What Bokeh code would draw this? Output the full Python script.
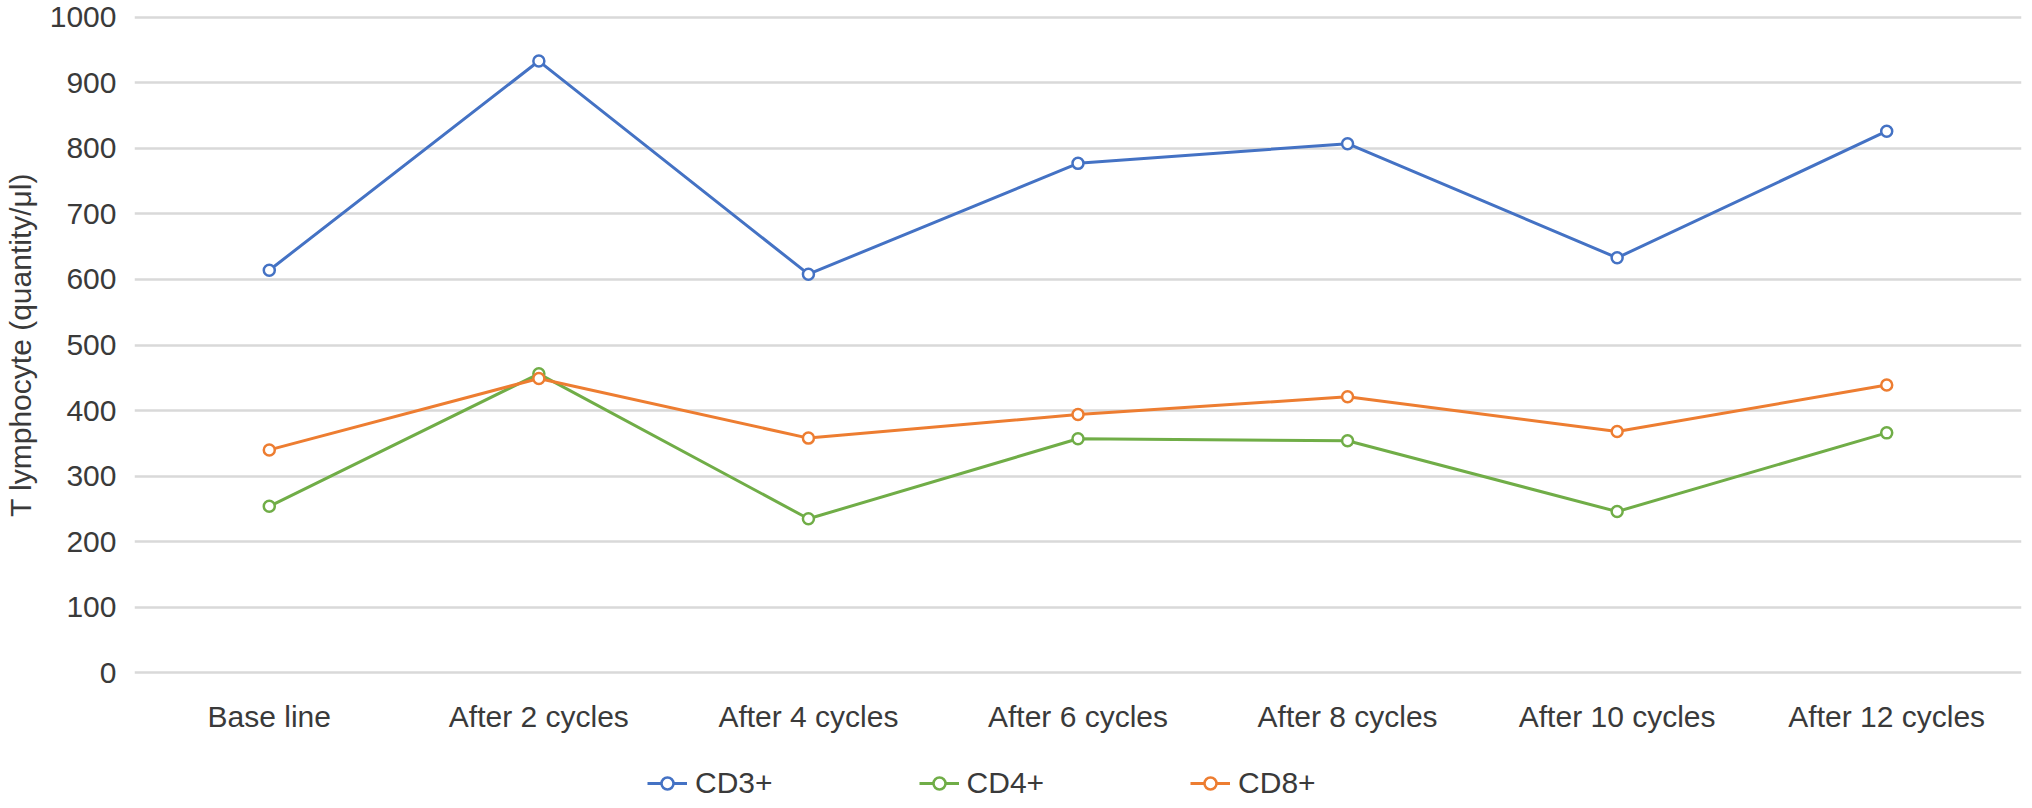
from bokeh.plotting import figure
from bokeh.layouts import column
from bokeh.models import FactorRange, Range1d, FixedTicker, Legend, LegendItem, ColumnDataSource
from bokeh.embed import file_html
from bokeh.resources import INLINE

categories = ["Base line", "After 2 cycles", "After 4 cycles", "After 6 cycles",
              "After 8 cycles", "After 10 cycles", "After 12 cycles"]
cd3 = [614, 933, 608, 777, 807, 633, 826]
cd4 = [254, 456, 235, 357, 354, 246, 366]
cd8 = [340, 449, 358, 394, 421, 368, 439]
series_names = ["CD3+", "CD4+", "CD8+"]
series_colors = ["#4472C4", "#70AD47", "#ED7D31"]
y_ticks = [0, 100, 200, 300, 400, 500, 600, 700, 800, 900, 1000]
y_title = "T lymphocyte (quantity/\u03bcl)"

FONT = "Liberation Sans"
TXT = "#3a3a3a"

p = figure(frame_width=1887, frame_height=661, output_backend="svg", toolbar_location=None,
           x_range=FactorRange(*categories, range_padding=0), y_range=Range1d(-4, 1004),
           min_border_left=125, min_border_right=4, min_border_top=14, min_border_bottom=72)
p.outline_line_color = None
p.background_fill_color = "white"
p.border_fill_color = "white"

sources = []
for name, vals, col in zip(series_names, [cd3, cd4, cd8], series_colors):
    src = ColumnDataSource(dict(x=categories, y=vals))
    sources.append(src)
    p.line("x", "y", source=src, line_color=col, line_width=3)
    p.scatter("x", "y", source=src, marker="circle", size=11, line_color=col,
              line_width=2.5, fill_color="white")

p.yaxis.ticker = FixedTicker(ticks=y_ticks)
p.ygrid.grid_line_color = "#d9d9d9"
p.ygrid.grid_line_width = 2.5
p.xgrid.grid_line_color = None

for ax in (p.xaxis[0], p.yaxis[0]):
    ax.axis_line_color = None
    ax.major_tick_line_color = None
    ax.minor_tick_line_color = None
    ax.major_label_text_font = FONT
    ax.major_label_text_font_size = "30px"
    ax.major_label_text_color = TXT

p.yaxis.major_label_standoff = 12
p.yaxis.axis_label = y_title
p.yaxis.axis_label_text_font = FONT
p.yaxis.axis_label_text_font_size = "30px"
p.yaxis.axis_label_text_font_style = "normal"
p.yaxis.axis_label_text_color = TXT
p.yaxis.axis_label_standoff = 10
p.xaxis.major_label_standoff = 18

# legend strip: same series, but its y-range keeps the marks out of view
pl = figure(width=2016, height=53, output_backend="svg", toolbar_location=None,
            x_range=FactorRange(*categories, range_padding=0), y_range=Range1d(-2, -1),
            min_border=0)
pl.axis.visible = False
pl.grid.visible = False
pl.outline_line_color = None
pl.background_fill_color = "white"
items = []
for name, src, col in zip(series_names, sources, series_colors):
    r1 = pl.line("x", "y", source=src, line_color=col, line_width=3)
    r2 = pl.scatter("x", "y", source=src, marker="circle", size=11, line_color=col,
                    line_width=2.5, fill_color="white")
    items.append(LegendItem(label=name, renderers=[r1, r2]))

legend = Legend(items=items, orientation="horizontal", location=(513, 0),
                label_text_font=FONT, label_text_font_size="30px", label_text_color=TXT,
                glyph_width=40, glyph_height=30, label_standoff=8, spacing=146,
                padding=0, margin=0, border_line_alpha=0, background_fill_alpha=0)
pl.add_layout(legend, "center")

open("out.html", "w").write(file_html(column(p, pl, spacing=0), INLINE))
